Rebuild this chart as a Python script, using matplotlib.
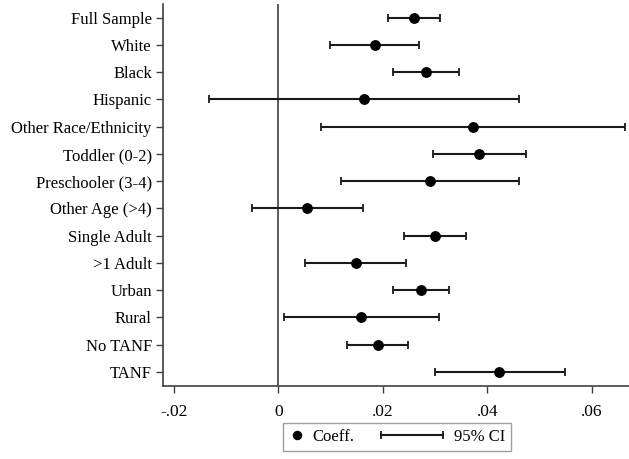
import numpy as np
import matplotlib
matplotlib.use('Agg')
import matplotlib.pyplot as plt
from matplotlib.ticker import FuncFormatter
from matplotlib.lines import Line2D
from matplotlib.legend_handler import HandlerBase

plt.rcParams['font.family'] = ['Liberation Serif', 'DejaVu Serif']

groups = ["Full Sample", "White", "Black", "Hispanic", "Other Race/Ethnicity",
          "Toddler (0-2)", "Preschooler (3-4)", "Other Age (>4)", "Single Adult",
          ">1 Adult", "Urban", "Rural", "No TANF", "TANF"]
coef = [0.0260, 0.0184, 0.0283, 0.0164, 0.0372, 0.0384, 0.0291, 0.0055,
        0.0300, 0.0148, 0.0273, 0.0158, 0.0190, 0.0423]
ci_low = [0.0210, 0.0099, 0.0220, -0.0132, 0.0081, 0.0296, 0.0120, -0.0051,
          0.0241, 0.0051, 0.0220, 0.0010, 0.0132, 0.0299]
ci_high = [0.0309, 0.0270, 0.0346, 0.0461, 0.0663, 0.0474, 0.0461, 0.0161,
           0.0360, 0.0244, 0.0326, 0.0307, 0.0249, 0.0548]
xticks = [-0.02, 0, 0.02, 0.04, 0.06]


class CIHandler(HandlerBase):
    # horizontal bar with caps, drawn longer than the handle box (extends left)
    def create_artists(self, legend, orig_handle, xdescent, ydescent,
                       width, height, fontsize, trans):
        y = height / 2 - ydescent
        x1 = width - xdescent - 3
        x0 = x1 - 45
        bar = Line2D([x0, x1], [y, y], color='#1a1a1a', lw=1.5)
        caps = Line2D([x0, x1], [y, y], ls='none', marker='|', ms=5.8,
                      mew=1.3, color='#1a1a1a')
        bar.set_transform(trans)
        caps.set_transform(trans)
        return [bar, caps]


coef = np.array(coef)
err = [coef - np.array(ci_low), np.array(ci_high) - coef]
ypos = np.arange(len(groups))

fig = plt.figure(figsize=(6.29, 4.59), dpi=100)
ax = fig.add_axes([0.259, 0.160, 0.741, 0.831])

ax.axvline(0, color='#404040', lw=1.2, zorder=1)
ci = ax.errorbar(coef, ypos, xerr=err, fmt='none', ecolor='#1a1a1a',
                 elinewidth=1.5, capsize=2.9, capthick=1.3, zorder=2)
ax.scatter(coef, ypos, s=46, color='black', zorder=3)

ax.set_ylim(13.5, -0.5)
ax.set_xlim(-0.0221, 0.0671)
ax.set_yticks(ypos)
ax.set_yticklabels(groups, fontsize=12)
ax.set_xticks(xticks)
ax.xaxis.set_major_formatter(FuncFormatter(
    lambda v, p: '0' if abs(v) < 1e-9 else ('%.2f' % v).replace('0.', '.')))
ax.tick_params(axis='x', labelsize=12.5, length=5, width=1, color='#404040', pad=8)
ax.tick_params(axis='y', length=5, width=1, color='#404040', pad=3)
for s in ['top', 'right']:
    ax.spines[s].set_visible(False)
for s in ['left', 'bottom']:
    ax.spines[s].set_color('#404040')
    ax.spines[s].set_linewidth(1.2)

dot = Line2D([], [], ls='none', marker='o', ms=5.8, color='black')
ci_handle = Line2D([], [])
leg = fig.legend([dot, ci_handle], ['Coeff.', '95% CI'], ncol=2, loc='center',
                 bbox_to_anchor=(397 / 629, 1 - 437 / 459), fontsize=12,
                 frameon=True, fancybox=False, edgecolor='#888888',
                 handlelength=1.0, handletextpad=0.4, columnspacing=4.6,
                 borderpad=0.35, borderaxespad=0, numpoints=1,
                 handler_map={ci_handle: CIHandler()})
leg.get_frame().set_linewidth(1.0)

fig.savefig('out.png', dpi=100)
